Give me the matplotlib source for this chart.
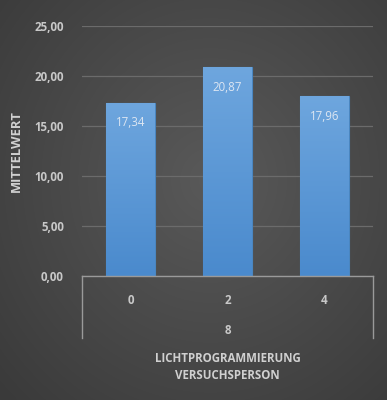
import numpy as np
import matplotlib
matplotlib.use("Agg")
import matplotlib.pyplot as plt
from matplotlib.transforms import blended_transform_factory

categories = ["0", "2", "4"]
group_label = "8"
values = [17.34, 20.87, 17.96]
value_labels = ["17,34", "20,87", "17,96"]
y_ticks = [0, 5, 10, 15, 20, 25]
y_tick_labels = ["0,00", "5,00", "10,00", "15,00", "20,00", "25,00"]
y_title = "MITTELWERT"
x_title = "LICHTPROGRAMMIERUNG\nVERSUCHSPERSON"

plt.rcParams["font.family"] = ["Open Sans", "DejaVu Sans"]

fig = plt.figure(figsize=(3.87, 4.0), dpi=100)

# radial dark-grey backdrop
bg = fig.add_axes([0, 0, 1, 1], zorder=0)
yy, xx = np.mgrid[0:400, 0:387]
r = np.sqrt(((xx - 210) / 260.0) ** 2 + ((yy - 180) / 280.0) ** 2)
shade = np.clip(0.35 - 0.11 * r, 0.23, 0.35)
bg.imshow(np.dstack([shade] * 3), aspect="auto", extent=[0, 1, 0, 1])
bg.axis("off")

ax = fig.add_axes([82 / 387, 124 / 400, 291 / 387, 250 / 400], zorder=1)
ax.set_facecolor("none")

x = np.arange(len(categories))
bars = ax.bar(x, values, width=0.5, color="#5b9bd5", edgecolor="#4a86c0",
              linewidth=0.8, zorder=3)

# vertical blue gradient inside each bar
grad = np.linspace(0, 1, 256).reshape(-1, 1)
cmap = matplotlib.colors.LinearSegmentedColormap.from_list(
    "barfill", ["#4a8acd", "#6ea6de"])
for b in bars:
    x0, w, h = b.get_x(), b.get_width(), b.get_height()
    im = ax.imshow(grad, cmap=cmap, aspect="auto", origin="lower",
                   extent=[x0, x0 + w, 0, h], zorder=3.5)
    im.set_clip_path(b)

fs = 8.3
for xi, v, lab in zip(x, values, value_labels):
    ax.text(xi, v - 2.0, lab, ha="center", va="center", color="#dce6f2",
            fontsize=fs, zorder=5)

ax.set_xlim(-0.5, len(categories) - 0.5)
ax.set_ylim(0, 25)
ax.set_yticks(y_ticks)
ax.set_yticklabels(y_tick_labels, color="#c8c8c8", fontsize=fs,
                   fontweight="bold")
ax.tick_params(axis="y", length=0, pad=13)
ax.set_xticks([])
ax.yaxis.grid(True, color="#6b6b6b", linewidth=0.9, zorder=1)
ax.set_axisbelow(True)
for s in ax.spines.values():
    s.set_visible(False)

ax.set_ylabel(y_title, color="#d0d0d0", fontsize=9.4, fontweight="bold",
              labelpad=8)

# multi-level category frame
frame_col = "#9a9a9a"
ax.plot([0, 1], [0, 0], transform=ax.transAxes, color=frame_col,
        linewidth=1.0, clip_on=False, zorder=4)
ax.plot([0, 0], [0, -0.248], transform=ax.transAxes, color=frame_col,
        linewidth=1.0, clip_on=False)
ax.plot([1, 1], [0, -0.248], transform=ax.transAxes, color=frame_col,
        linewidth=1.0, clip_on=False)

trans = blended_transform_factory(ax.transData, ax.transAxes)
for xi, c in zip(x, categories):
    ax.text(xi, -0.096, c, transform=trans, ha="center", va="center",
            color="#c8c8c8", fontsize=fs, fontweight="bold")
ax.text(0.5, -0.216, group_label, transform=ax.transAxes, ha="center",
        va="center", color="#c8c8c8", fontsize=fs, fontweight="bold")
ax.text(0.5, -0.364, x_title, transform=ax.transAxes, ha="center",
        va="center", color="#d0d0d0", fontsize=fs, fontweight="bold",
        linespacing=1.45)

fig.savefig("out.png", dpi=100)
